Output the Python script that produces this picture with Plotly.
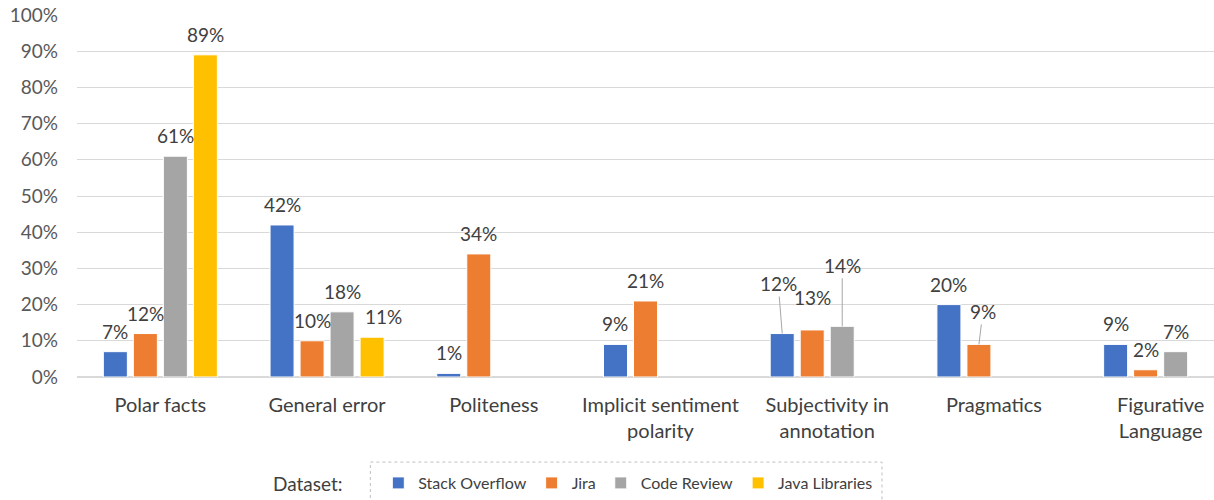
import plotly.graph_objects as go

categories = ["Polar facts", "General error", "Politeness", "Implicit sentiment<br>polarity",
              "Subjectivity in<br>annotation", "Pragmatics", "Figurative<br>Language"]
series_names = ["Stack Overflow", "Jira", "Code Review", "Java Libraries"]
stack_overflow = [0.07, 0.42, 0.01, 0.09, 0.12, 0.20, 0.09]
jira = [0.12, 0.10, 0.34, 0.21, 0.13, 0.09, 0.02]
code_review = [0.61, 0.18, None, None, 0.14, None, 0.07]
java_libraries = [0.89, 0.11, None, None, None, None, None]
y_ticks = [0, 0.1, 0.2, 0.3, 0.4, 0.5, 0.6, 0.7, 0.8, 0.9, 1.0]

colors = ["#4472C4", "#ED7D31", "#A5A5A5", "#FFC000"]
all_series = [stack_overflow, jira, code_review, java_libraries]

FONT = "Lato"
BARGAP = 0.28
BARGROUPGAP = 0.2

fig = go.Figure()
for name, vals, col in zip(series_names, all_series, colors):
    fig.add_trace(go.Bar(
        name=name, x=list(range(len(categories))), y=vals,
        marker=dict(color=col, line=dict(color="white", width=1)),
    ))

# label placement (style only): leader-line offsets in px, and small x shifts
leader = {(4, 0): (-4, -50), (4, 2): (0, -61), (5, 1): (4, -33)}
plain_shift = {(4, 1): (0, 12), (1, 3): (11, 0)}

slot = (1 - BARGAP) / len(all_series)
annotations = []
for si, vals in enumerate(all_series):
    off = (si - (len(all_series) - 1) / 2) * slot
    for ci, v in enumerate(vals):
        if v is None:
            continue
        txt = f"{round(v * 100)}%"
        xc = ci + off
        if (ci, si) in leader:
            ax, ay = leader[(ci, si)]
            annotations.append(dict(x=xc, y=v, xref="x", yref="y", text=txt, showarrow=True,
                                    arrowhead=0, arrowwidth=1, arrowcolor="#a6a6a6",
                                    ax=ax, ay=ay, standoff=0,
                                    font=dict(family=FONT, size=19, color="#404040")))
        else:
            dx, dy = plain_shift.get((ci, si), (0, 0))
            annotations.append(dict(x=xc, y=v, xref="x", yref="y", text=txt, showarrow=False,
                                    yanchor="bottom", xanchor="center", yshift=7 + dy, xshift=dx,
                                    font=dict(family=FONT, size=19, color="#404040")))

annotations.append(dict(x=0.203, y=-0.293, xref="paper", yref="paper", text="Dataset:",
                        showarrow=False, xanchor="center", yanchor="middle",
                        font=dict(family=FONT, size=19, color="#404040")))

fig.update_layout(
    width=1214, height=500,
    margin=dict(l=77, r=0, t=15, b=123),
    paper_bgcolor="white", plot_bgcolor="white",
    barmode="group", bargap=BARGAP, bargroupgap=BARGROUPGAP,
    font=dict(family=FONT, size=19, color="#404040"),
    showlegend=True,
    legend=dict(orientation="h", x=0.265, y=-0.293, xanchor="left", yanchor="middle",
                font=dict(family=FONT, size=16, color="#404040"),
                itemwidth=30, traceorder="normal"),
    annotations=annotations,
    shapes=[dict(type="rect", xref="paper", yref="paper", x0=0.258, x1=0.708, y0=-0.40, y1=-0.235,
                 line=dict(color="#bfbfbf", width=1, dash="dot"))],
)
fig.update_xaxes(
    tickmode="array", tickvals=list(range(len(categories))), ticktext=categories,
    range=[-0.5, 6.32], showgrid=False, zeroline=False, showline=False, ticks="",
    ticklabelstandoff=14,
    tickfont=dict(family=FONT, size=20, color="#404040"),
)
fig.update_yaxes(
    range=[0, 1], tickvals=y_ticks, tickformat=".0%",
    showgrid=True, gridcolor="#d9d9d9", gridwidth=1, zeroline=True, zerolinecolor="#d9d9d9",
    ticks="", ticklabelstandoff=18,
    tickfont=dict(family=FONT, size=19, color="#595959"),
)

fig.write_html("out.html")
